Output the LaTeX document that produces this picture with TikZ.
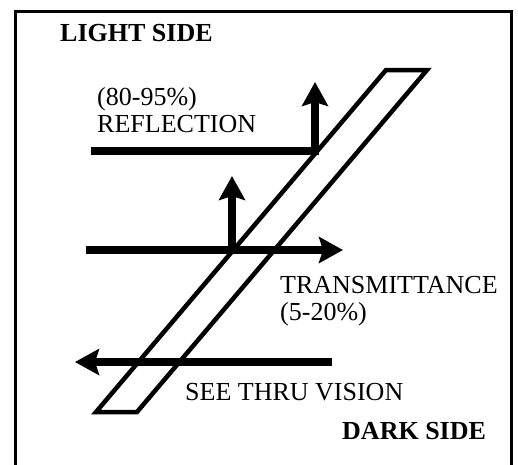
\documentclass[tikz,border=0pt]{standalone}
\usepackage{fontspec}
\setmainfont{Liberation Serif}
\usetikzlibrary{arrows.meta}

\begin{document}
\begin{tikzpicture}[x=1pt,y=-1pt,
	caption/.style={anchor=base west,inner sep=0pt,align=left,
		font=\fontsize{26}{27}\selectfont},
	sidename/.style={caption,font=\fontsize{26}{27}\selectfont\bfseries},
	ray/.style={line width=7.5pt},
	raytip/.style={-{Stealth[length=24pt,width=26pt,inset=4pt]}},
	pane/.style={line width=4.5pt,line join=miter}]
	
	\useasboundingbox (0,0) rectangle (518,464);
	
	% frame, open at the bottom
	\draw[line width=3pt] (15.5,470) -- (15.5,11.5) -- (511.5,11.5) -- (511.5,470);
	
	% the glass pane
	\draw[pane] (386,70) -- (427,70) -- (137,412) -- (96,412) -- cycle;
	
	% points where the rays start, turn and end
	\coordinate (reflin)  at (91,151);
	\coordinate (reflhit) at (319,151);
	\coordinate (reflbot) at (315,155);
	\coordinate (reflout) at (315,82);
	\coordinate (transin)  at (86,250);
	\coordinate (transout) at (343,250);
	\coordinate (backbot) at (232,250);
	\coordinate (backout) at (232,176);
	\coordinate (seein)  at (332,362);
	\coordinate (seeout) at (75,362);
	
	% reflected ray
	\draw[ray] (reflin) -- (reflhit);
	\draw[ray,raytip] (reflbot) -- (reflout);
	
	% transmitted ray and its reflected part
	\draw[ray,raytip] (transin) -- (transout);
	\draw[ray,raytip] (backbot) -- (backout);
	
	% view from the dark side
	\draw[ray,raytip] (seein) -- (seeout);
	
	% labels (base anchor sits on the last line)
	\node[sidename] (light) at (60,41) {LIGHT SIDE};
	\node[caption] (refl) at (97,132) {(80-95\%)\\REFLECTION};
	\node[caption] (trans) at (280,320) {TRANSMITTANCE\\(5-20\%)};
	\node[caption] (see) at (185,400) {SEE THRU VISION};
	\node[sidename] (dark) at (342,439) {DARK SIDE};
	
\end{tikzpicture}
\end{document}
